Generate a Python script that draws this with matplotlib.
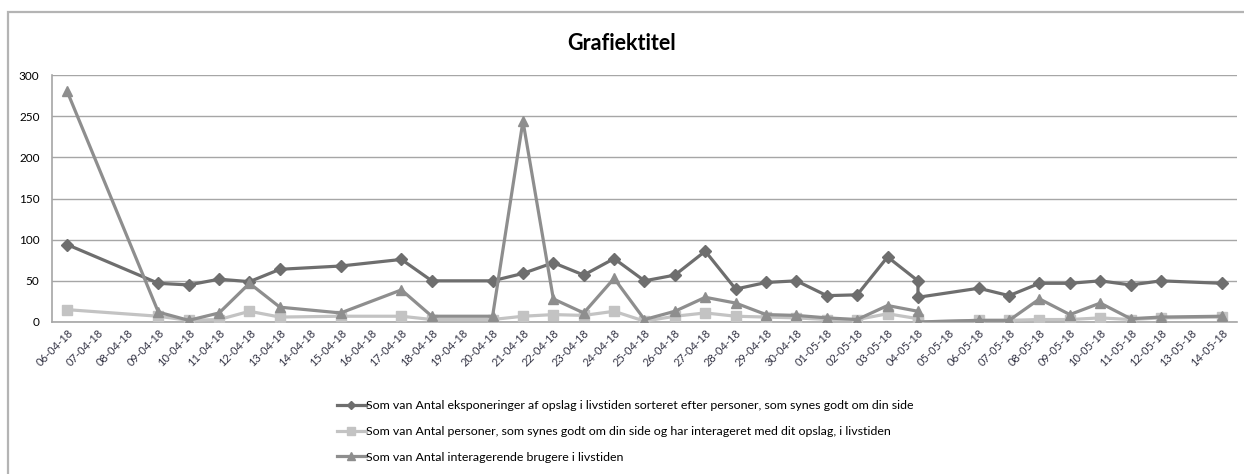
import matplotlib
matplotlib.use("Agg")
import matplotlib.pyplot as plt
import matplotlib.dates as mdates
import pandas as pd
from matplotlib.patches import Rectangle

# dates of the recorded points (04-05-18 appears twice in the source data)
point_dates = ["06-04-18", "09-04-18", "10-04-18", "11-04-18", "12-04-18", "13-04-18",
               "15-04-18", "17-04-18", "18-04-18", "20-04-18", "21-04-18", "22-04-18",
               "23-04-18", "24-04-18", "25-04-18", "26-04-18", "27-04-18", "28-04-18",
               "29-04-18", "30-04-18", "01-05-18", "02-05-18", "03-05-18", "04-05-18",
               "04-05-18", "06-05-18", "07-05-18", "08-05-18", "09-05-18", "10-05-18",
               "11-05-18", "12-05-18", "14-05-18"]

eksponeringer = [94, 47, 45, 52, 49, 64, 68, 76, 50, 50, 59, 72, 57, 77, 50, 57, 86,
                 40, 48, 50, 32, 33, 79, 50, 30, 41, 32, 47, 47, 50, 45, 50, 47]
personer = [15, 7, 2, 3, 13, 6, 7, 7, 3, 3, 7, 9, 8, 13, 1, 7, 11,
            7, 6, 5, 3, 3, 10, 4, 0, 2, 2, 3, 3, 5, 3, 5, 6]
interagerende = [280, 12, 2, 11, 47, 18, 11, 39, 7, 7, 244, 28, 11, 53, 3, 13, 30,
                 23, 9, 8, 5, 3, 20, 13, 0, 2, 2, 28, 9, 23, 4, 6, 7]

labels = [
    "Som van Antal eksponeringer af opslag i livstiden sorteret efter personer, som synes godt om din side",
    "Som van Antal personer, som synes godt om din side og har interageret med dit opslag, i livstiden",
    "Som van Antal interagerende brugere i livstiden",
]
first_day = "06-04-18"
last_day = "14-05-18"
y_ticks = [0, 50, 100, 150, 200, 250, 300]

plt.rcParams['font.family'] = ['Lato', 'DejaVu Sans']

x = pd.to_datetime(point_dates, format="%d-%m-%y")
start = pd.to_datetime(first_day, format="%d-%m-%y")
end = pd.to_datetime(last_day, format="%d-%m-%y")
all_days = pd.date_range(start, end, freq="D")

fig = plt.figure(figsize=(12.44, 4.74), dpi=100)
ax = fig.add_axes([52 / 1244, 1 - 322 / 474, 1185 / 1244, 247 / 474])

# outer chart frame, cut off at right and bottom like the screenshot
fig.patches.append(Rectangle((8 / 1244, -0.2), 1.5, 1.2 - 12 / 474,
                             transform=fig.transFigure, fill=False,
                             edgecolor="#b4b4b4", linewidth=1.6))

h1, = ax.plot(x, eksponeringer, color="#6e6e6e", lw=2.3, marker="D", ms=6.5,
              label=labels[0], zorder=3)
h2, = ax.plot(x, personer, color="#c3c3c3", lw=2.3, marker="s", ms=7.5,
              label=labels[1], zorder=4)
h3, = ax.plot(x, interagerende, color="#8e8e8e", lw=2.3, marker="^", ms=7.5,
              label=labels[2], zorder=5)

ax.set_ylim(0, 300)
ax.set_yticks(y_ticks)
ax.set_xlim(start - pd.Timedelta(hours=12), end + pd.Timedelta(hours=12))
ax.set_xticks(all_days)
ax.xaxis.set_major_formatter(mdates.DateFormatter("%d-%m-%y"))
ax.grid(axis="y", color="#a6a6a6", lw=1)
ax.set_axisbelow(True)
for s in ["top", "right"]:
    ax.spines[s].set_visible(False)
for s in ["left", "bottom"]:
    ax.spines[s].set_color("#a6a6a6")
    ax.spines[s].set_linewidth(1.2)
ax.tick_params(axis="both", length=0)
ax.tick_params(axis="y", labelsize=8.5, pad=9)
ax.tick_params(axis="x", labelsize=8, pad=4, labelcolor="#333344")
for lbl in ax.get_xticklabels():
    lbl.set_rotation(45)
    lbl.set_ha("right")
    lbl.set_va("top")
    lbl.set_rotation_mode("anchor")

fig.text(0.5, 1 - 43 / 474, "Grafiektitel", ha="center", va="center",
         fontsize=15.5, fontweight="bold")

fig.legend(handles=[h1, h2, h3], loc="upper left",
           bbox_to_anchor=(326 / 1244, 1 - 389 / 474), frameon=False,
           fontsize=8.9, handlelength=2.3, handletextpad=0.0,
           labelspacing=1.2, markerscale=0.7)

fig.savefig("out.png", dpi=100)
